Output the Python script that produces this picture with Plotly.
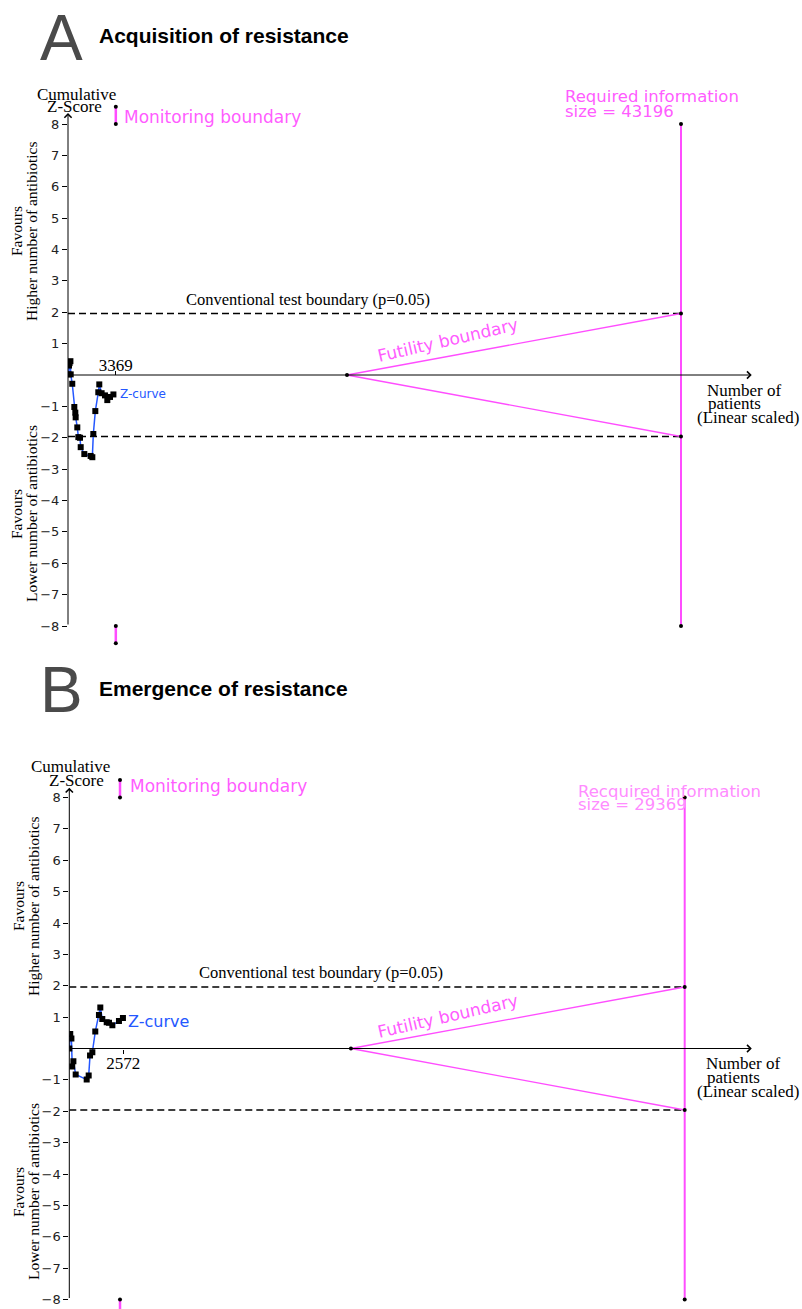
import plotly.graph_objects as go

W, H = 802, 1309

# ---------------- data ----------------
z_ticks = [8, 7, 6, 5, 4, 3, 2, 1, -1, -2, -3, -4, -5, -6, -7, -8]
z_ticklabels = [str(v).replace("-", "\u2212") for v in z_ticks]
conv_z = 1.96
z_clip = 8

# Panel A: Acquisition of resistance
a_patients = [40, 70, 110, 170, 190, 300, 445, 515, 540, 655, 730, 845, 895, 1150,
              1595, 1715, 1785, 1925, 2135, 2205, 2370, 2605, 2770, 2960, 3200]
a_z = [0.02, 0.30, 0.38, 0.44, 0.02, -0.28, -1.02, -1.20, -1.35, -1.67, -1.98, -2.0,
       -2.30, -2.52, -2.58, -2.62, -1.88, -1.15, -0.55, -0.30, -0.58, -0.65, -0.80,
       -0.70, -0.62]
a_ris = 43196
a_futility_start = 19660
a_monitor_x = 3369
a_monitor_z = 8.55
a_tick = 3369
a_axis_end = 48180

# Panel B: Emergence of resistance
b_patients = [0, 45, 100, 140, 195, 305, 830, 925, 990, 1100, 1240, 1415, 1480,
              1575, 1785, 1895, 2055, 2370, 2560]
b_z = [0.0, 0.46, 0.32, -0.57, -0.41, -0.83, -0.99, -0.86, -0.22, -0.12, 0.54, 1.07,
       1.31, 0.94, 0.84, 0.82, 0.74, 0.88, 0.97]
b_ris = 29369
b_futility_start = 13440
b_monitor_x = 2420
b_monitor_z = 8.56
b_tick = 2572
b_axis_end = 32570

PINK = "#ff4dff"
PINK_TXT_A = "#ff5cff"
PINK_TXT_B = "#ff8cff"
BLUE = "#2457ff"
SERIF = "Liberation Serif"
SANS = "DejaVu Sans"


def px(x):
    return x / W


def py(y):
    return 1 - y / H


fig = go.Figure()

panels = [
    dict(key="", pat=a_patients, z=a_z, ris=a_ris, fut=a_futility_start,
         mon=a_monitor_x, monz=a_monitor_z, tick=a_tick, end=a_axis_end,
         px0=68.0, sx=613.0 / 43196, py0=375.0, sy=31.375,
         box=(68.0, 780.0, 100.0, 652.0), side="top", arrow_top=8.35, standoff=-7),
    dict(key="2", pat=b_patients, z=b_z, ris=b_ris, fut=b_futility_start,
         mon=b_monitor_x, monz=b_monitor_z, tick=b_tick, end=b_axis_end,
         px0=69.3, sx=615.4 / 29369, py0=1048.5, sy=31.375,
         box=(69.3, 780.0, 770.0, 1309.0), side="bottom", arrow_top=8.31, standoff=-5),
]

annotations = []
for p in panels:
    xa = "x" + p["key"]
    ya = "y" + p["key"]
    x0b, x1b, y0b, y1b = p["box"]
    xr = [(x0b - p["px0"]) / p["sx"], (x1b - p["px0"]) / p["sx"]]
    yr = [(p["py0"] - y1b) / p["sy"], (p["py0"] - y0b) / p["sy"]]
    layout_x = "xaxis" + p["key"]
    layout_y = "yaxis" + p["key"]
    fig.update_layout(**{
        layout_x: dict(domain=[px(x0b), px(x1b)], range=xr, anchor="free",
                       position=py(p["py0"]), side=p["side"], showline=False,
                       showgrid=False, zeroline=False, ticks="outside", ticklen=4,
                       tickcolor="black", tickvals=[p["tick"]], ticktext=[str(p["tick"])],
                       ticklabelstandoff=p["standoff"],
                       tickfont=dict(family=SERIF, size=17, color="black"),
                       fixedrange=True),
        layout_y: dict(domain=[py(y1b), py(y0b)], range=yr, anchor=xa, side="left",
                       showline=False, showgrid=False, zeroline=False, ticks="outside",
                       ticklen=5, tickcolor="black", tickvals=z_ticks,
                       ticktext=z_ticklabels,
                       tickfont=dict(family=SANS, size=13, color="#222"),
                       fixedrange=True),
    })

    common = dict(xaxis=xa, yaxis=ya, showlegend=False, hoverinfo="skip")
    # conventional boundaries
    for s in (1, -1):
        fig.add_trace(go.Scatter(x=[0, p["ris"]], y=[s * conv_z, s * conv_z], mode="lines",
                                 line=dict(color="black", width=1.5, dash="7px,4px"), **common))
    # futility boundary
    for s in (1, -1):
        fig.add_trace(go.Scatter(x=[p["fut"], p["ris"]], y=[0, s * conv_z], mode="lines",
                                 line=dict(color=PINK, width=1.3), **common))
    # required information size line
    fig.add_trace(go.Scatter(x=[p["ris"], p["ris"]], y=[-z_clip, z_clip], mode="lines",
                             line=dict(color=PINK, width=2), **common))
    # monitoring boundary (clipped part beyond ±8)
    for s in (1, -1):
        fig.add_trace(go.Scatter(x=[p["mon"], p["mon"]], y=[s * z_clip, s * p["monz"]],
                                 mode="lines+markers",
                                 line=dict(color=PINK, width=2.5),
                                 marker=dict(color="black", size=4), **common))
    # black dots
    fig.add_trace(go.Scatter(x=[p["fut"], p["ris"], p["ris"], p["ris"], p["ris"]],
                             y=[0, conv_z, -conv_z, z_clip, -z_clip], mode="markers",
                             marker=dict(color="black", size=4), **common))
    # Z-curve
    fig.add_trace(go.Scatter(x=p["pat"], y=p["z"], mode="lines+markers",
                             line=dict(color=BLUE, width=1.5),
                             marker=dict(color="black", size=6, symbol="square"), **common))

    # axis arrows
    annotations.append(dict(x=0, y=p["arrow_top"], ax=0, ay=-z_clip, xref=xa, yref=ya,
                            axref=xa, ayref=ya, text="", showarrow=True, arrowhead=4,
                            arrowsize=1.4, arrowwidth=1, arrowcolor="black",
                            standoff=0, startstandoff=0))
    annotations.append(dict(x=p["end"], y=0, ax=0, ay=0, xref=xa, yref=ya,
                            axref=xa, ayref=ya, text="", showarrow=True, arrowhead=4,
                            arrowsize=1.4, arrowwidth=1, arrowcolor="black",
                            standoff=0, startstandoff=0))


def txt(x, y, s, size=14, family=SERIF, color="black", xanchor="center",
        yanchor="middle", angle=0, bold=False, align="left"):
    if bold:
        s = "<b>" + s + "</b>"
    annotations.append(dict(x=px(x), y=py(y), xref="paper", yref="paper", text=s,
                            showarrow=False, xanchor=xanchor, yanchor=yanchor,
                            textangle=angle, align=align,
                            font=dict(family=family, size=size, color=color)))


# Titles
txt(38, 38, "A", size=64, family="Liberation Sans", color="#4a4a4a", xanchor="left")
txt(97, 36, "Acquisition of resistance", size=21, family="Liberation Sans", xanchor="left", bold=True)
txt(38, 690, "B", size=64, family="Liberation Sans", color="#4a4a4a", xanchor="left")
txt(97, 688, "Emergence of resistance", size=21, family="Liberation Sans", xanchor="left", bold=True)

# Panel A labels
txt(76, 94, "Cumulative", 17)
txt(74, 107, "Z-Score", 17)
txt(122, 117, "Monitoring boundary", 17, SANS, PINK_TXT_A, xanchor="left")
txt(563, 97, "Required information", 16.5, SANS, PINK_TXT_A, xanchor="left")
txt(563, 111, "size = 43196", 16.5, SANS, PINK_TXT_A, xanchor="left")
txt(308, 299, "Conventional test boundary (p=0.05)", 16.5)
txt(448, 340, "Futility boundary", 17, SANS, PINK_TXT_A, angle=-13)
txt(118, 394, "Z-curve", 12, SANS, BLUE, xanchor="left")
txt(705, 390, "Number of", 17, xanchor="left")
txt(706, 403, "patients", 17, xanchor="left")
txt(695, 417, "(Linear scaled)", 17, xanchor="left")
txt(16, 231, "Favours", 15.5, angle=-90)
txt(31, 231, "Higher number of antibiotics", 15.5, angle=-90)
txt(16, 514, "Favours", 15.5, angle=-90)
txt(31, 514, "Lower number of antibiotics", 15.5, angle=-90)

# Panel B labels
txt(70, 767, "Cumulative", 17)
txt(76, 780, "Z-Score", 17)
txt(128, 786, "Monitoring boundary", 17, SANS, PINK_TXT_A, xanchor="left")
txt(576, 791, "Recquired information", 16.5, SANS, PINK_TXT_B, xanchor="left")
txt(576, 804, "size = 29369", 16.5, SANS, PINK_TXT_B, xanchor="left")
txt(321, 972, "Conventional test boundary (p=0.05)", 16.5)
txt(448, 1016, "Futility boundary", 17, SANS, PINK_TXT_A, angle=-13)
txt(126, 1021, "Z-curve", 16, SANS, BLUE, xanchor="left")
txt(704, 1063, "Number of", 17, xanchor="left")
txt(705, 1077, "patients", 17, xanchor="left")
txt(695, 1091, "(Linear scaled)", 17, xanchor="left")
txt(18, 906, "Favours", 15.5, angle=-90)
txt(33, 906, "Higher number of antibiotics", 15.5, angle=-90)
txt(18, 1192, "Favours", 15.5, angle=-90)
txt(33, 1192, "Lower number of antibiotics", 15.5, angle=-90)

fig.update_layout(width=W, height=H, margin=dict(l=0, r=0, t=0, b=0),
                  paper_bgcolor="white", plot_bgcolor="white",
                  annotations=annotations, showlegend=False)

fig.write_html("out.html")
